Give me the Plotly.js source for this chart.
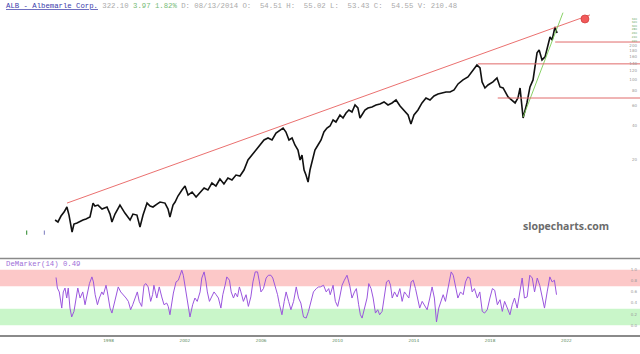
<!DOCTYPE html>
<html><head><meta charset="utf-8">
<script src="https://cdn.plot.ly/plotly-3.0.1.min.js"></script>
<style>html,body{margin:0;padding:0;background:#fff}#c{width:640px;height:354px}</style>
</head><body><div id="c"></div>
<script>
// ---- data ----
const pYears = [1995.20,1995.35,1995.51,1995.67,1995.82,1995.93,1996.09,1996.19,1996.35,1996.51,1996.66,1996.82,1997.03,1997.19,1997.29,1997.45,1997.66,1997.92,1998.08,1998.18,1998.34,1998.60,1998.76,1998.86,1999.13,1999.28,1999.49,1999.65,1999.81,2000.02,2000.18,2000.33,2000.54,2000.70,2000.96,2001.12,2001.22,2001.38,2001.49,2001.64,2001.85,2002.01,2002.17,2002.38,2002.59,2002.80,2003.01,2003.21,2003.42,2003.63,2003.84,2004.05,2004.26,2004.47,2004.68,2004.89,2005.10,2005.31,2005.52,2005.73,2005.94,2006.15,2006.36,2006.57,2006.78,2006.99,2007.15,2007.30,2007.46,2007.62,2007.77,2007.93,2008.04,2008.14,2008.25,2008.35,2008.46,2008.56,2008.67,2008.82,2008.98,2009.14,2009.29,2009.45,2009.61,2009.77,2009.92,2010.13,2010.29,2010.45,2010.60,2010.76,2010.92,2011.07,2011.18,2011.29,2011.44,2011.60,2011.81,2012.02,2012.23,2012.44,2012.65,2012.86,2013.07,2013.28,2013.49,2013.70,2013.85,2014.01,2014.22,2014.43,2014.64,2014.85,2015.06,2015.27,2015.48,2015.69,2015.90,2016.11,2016.32,2016.58,2016.84,2017.10,2017.31,2017.47,2017.58,2017.73,2017.89,2018.15,2018.36,2018.52,2018.68,2018.94,2019.15,2019.31,2019.46,2019.57,2019.67,2019.73,2019.93,2020.09,2020.25,2020.46,2020.57,2020.72,2020.88,2021.04,2021.14,2021.25,2021.40,2021.51];
const pVals = [5.99,5.76,6.49,7.03,7.78,6.62,4.71,5.53,5.64,5.87,5.99,6.11,6.36,8.42,7.93,8.09,7.47,7.78,6.75,5.76,6.75,8.09,7.32,6.89,5.99,6.75,6.62,5.21,6.62,8.42,7.93,7.78,8.25,8.60,8.42,7.47,6.36,8.09,8.60,9.70,10.94,11.86,9.90,10.51,9.51,10.31,11.40,10.94,12.60,11.86,13.65,12.35,13.93,13.38,14.79,14.49,16.36,20.0,22.11,24.45,27.04,29.90,31.12,29.90,34.4,36.55,38.0,35.1,29.9,31.1,27.04,24.45,20.0,22.11,16.36,14.79,12.85,16.36,20.0,24.45,27.04,29.9,35.1,38.0,39.6,44.69,42.9,49.42,46.5,51.4,54.64,52.5,60.42,56.9,46.5,49.42,54.64,56.9,58.1,60.42,61.6,64.2,60.42,62.9,66.81,59.2,54.64,49.42,41.2,49.42,54.64,62.9,69.6,66.81,72.4,75.4,76.9,78.5,78.5,81.7,92.2,99.9,106.1,122.1,135.0,127.1,96.0,85.0,90.3,96.0,104.0,86.8,85.0,71.0,66.8,62.9,69.6,85.0,58.1,46.5,62.9,86.8,99.9,172,182.5,149.3,158.6,210,237,223,290,257];

const stubYears = [1993.71, 1994.64];
const stubLo = [4.45, 4.45];
const stubHi = [4.85, 4.85];

const trendYears = [1995.825, 2023.235];
const trendVals = [8.42, 368.9];
const greenTrendYears = [2019.73, 2021.82];
const greenTrendVals = [47.4, 386];
const levelStarts = [2021.41, 2017.36, 2018.40];
const levelVals = [214, 138, 69.5];
const levelEnd = 2025.86;
const targetYear = [2022.97];
const targetVal = [340];

const dmYears = [1995.25,1995.32,1995.42,1995.55,1995.63,1995.72,1995.81,1995.89,1995.98,1996.07,1996.19,1996.30,1996.39,1996.51,1996.65,1996.77,1996.89,1997.00,1997.13,1997.21,1997.30,1997.42,1997.52,1997.65,1997.73,1997.87,1997.94,1998.08,1998.18,1998.29,1998.43,1998.51,1998.64,1998.78,1998.92,1999.04,1999.16,1999.27,1999.39,1999.51,1999.61,1999.74,1999.86,1999.96,2000.08,2000.21,2000.31,2000.38,2000.53,2000.66,2000.79,2000.91,2001.05,2001.13,2001.22,2001.31,2001.40,2001.54,2001.66,2001.75,2001.84,2001.92,2002.01,2002.13,2002.27,2002.41,2002.53,2002.65,2002.80,2002.89,2003.01,2003.11,2003.18,2003.29,2003.41,2003.53,2003.64,2003.76,2003.89,2003.99,2004.11,2004.20,2004.34,2004.43,2004.55,2004.65,2004.76,2004.86,2004.94,2005.07,2005.21,2005.33,2005.46,2005.57,2005.69,2005.81,2005.91,2005.99,2006.12,2006.26,2006.38,2006.51,2006.61,2006.73,2006.86,2006.96,2007.09,2007.21,2007.31,2007.44,2007.56,2007.70,2007.84,2007.96,2008.08,2008.22,2008.36,2008.48,2008.61,2008.74,2008.89,2009.01,2009.10,2009.27,2009.41,2009.54,2009.62,2009.77,2009.89,2010.01,2010.11,2010.24,2010.36,2010.50,2010.64,2010.76,2010.89,2010.99,2011.11,2011.20,2011.29,2011.41,2011.55,2011.64,2011.76,2011.87,2011.99,2012.11,2012.21,2012.34,2012.46,2012.57,2012.69,2012.78,2012.87,2012.99,2013.13,2013.27,2013.39,2013.51,2013.62,2013.74,2013.86,2013.97,2014.09,2014.21,2014.31,2014.44,2014.56,2014.70,2014.84,2014.96,2015.08,2015.19,2015.31,2015.44,2015.54,2015.66,2015.75,2015.89,2015.96,2016.07,2016.19,2016.31,2016.45,2016.59,2016.71,2016.83,2016.94,2017.06,2017.18,2017.33,2017.46,2017.59,2017.71,2017.85,2017.99,2018.12,2018.24,2018.38,2018.52,2018.64,2018.76,2018.90,2019.04,2019.16,2019.28,2019.42,2019.56,2019.68,2019.80,2019.94,2020.08,2020.21,2020.33,2020.47,2020.60,2020.73,2020.85,2020.99,2021.13,2021.25,2021.37,2021.48];
const dmVals = [0.86,0.67,0.60,0.31,0.60,0.67,0.49,0.67,0.31,0.15,0.25,0.49,0.67,0.49,0.60,0.37,0.60,0.75,0.87,0.78,0.55,0.37,0.49,0.60,0.55,0.72,0.60,0.31,0.22,0.37,0.55,0.69,0.60,0.55,0.49,0.43,0.28,0.37,0.49,0.60,0.43,0.34,0.72,0.75,0.69,0.43,0.55,0.72,0.49,0.69,0.51,0.37,0.40,0.34,0.19,0.43,0.58,0.78,0.81,0.90,0.99,0.90,0.69,0.43,0.15,0.37,0.49,0.43,0.60,0.85,0.96,0.78,0.60,0.43,0.51,0.60,0.55,0.49,0.31,0.55,0.72,0.87,0.81,0.60,0.49,0.58,0.51,0.69,0.60,0.43,0.55,0.34,0.51,0.78,0.96,0.96,0.78,0.60,0.66,0.85,0.90,0.90,0.85,0.72,0.55,0.37,0.19,0.43,0.60,0.43,0.28,0.43,0.69,0.49,0.40,0.15,0.13,0.25,0.43,0.60,0.66,0.69,
 0.69,0.72,0.60,0.66,0.55,0.72,0.43,0.34,0.49,0.72,0.81,0.90,0.72,0.49,0.60,0.66,0.37,0.19,0.13,0.28,0.49,0.75,0.66,0.49,0.22,0.28,0.19,0.25,0.49,0.78,0.81,0.72,0.49,0.60,0.51,0.66,0.43,0.60,0.55,0.49,0.78,0.81,0.66,0.43,0.31,0.43,0.37,0.28,0.49,0.69,0.49,0.06,0.31,0.43,0.55,0.43,0.60,0.81,0.96,0.90,0.66,0.49,0.60,0.55,0.78,0.87,0.85,0.60,0.66,0.49,0.60,0.25,0.22,0.28,0.49,0.66,0.63,0.37,0.46,0.25,0.43,0.31,0.19,0.37,0.49,0.31,0.60,0.85,0.49,0.51,0.90,0.85,0.60,0.85,0.72,0.49,0.31,0.60,0.87,0.78,0.81,0.55];
const obBand = [0.7, 1.0];
const osBand = [0.0, 0.3];

const xTickVals = [1998, 2002, 2006, 2010, 2014, 2018, 2022];
const xTickText = ['1998', '2002', '2006', '2010', '2014', '2018', '2022'];
const pTickVals = [20,40,60,80,100,120,140,160,180,200,220,240,260,280,300,320,340];
const dmTickVals = [0, 0.2, 0.4, 0.6, 0.8, 1.0];
const dmTickText = ['0.0','0.2','0.4','0.6','0.8','1.0'];

// ---- chart ----
const nb = s => s.replace(/ /g, '\u00a0');
const split = 0.2284;
const traces = [
  {x: pYears, y: pVals, type: 'scatter', mode: 'lines', line: {color: '#111', width: 1.6}, xaxis: 'x', yaxis: 'y'},
  {x: trendYears, y: trendVals, type: 'scatter', mode: 'lines', line: {color: '#e8605f', width: 0.9}, xaxis: 'x', yaxis: 'y'},
  {x: greenTrendYears, y: greenTrendVals, type: 'scatter', mode: 'lines', line: {color: '#7acc55', width: 0.9}, xaxis: 'x', yaxis: 'y'}
];
levelVals.forEach((v, i) => traces.push({x: [levelStarts[i], levelEnd], y: [v, v], type: 'scatter', mode: 'lines', line: {color: '#e06a6a', width: 1}, xaxis: 'x', yaxis: 'y'}));
traces.push({x: targetYear, y: targetVal, type: 'scatter', mode: 'markers', marker: {color: '#f25a5a', size: 8, line: {color: '#d04040', width: 0.8}}, xaxis: 'x', yaxis: 'y'});
const stubColors = ['#4a9a4a', '#9090c8'];
stubYears.forEach((yr, i) => traces.push({x: [yr, yr], y: [stubLo[i], stubHi[i]], type: 'scatter', mode: 'lines', line: {color: stubColors[i], width: 1.2}, xaxis: 'x', yaxis: 'y'}));
traces.push({x: dmYears, y: dmVals, type: 'scatter', mode: 'lines', line: {color: '#9a55dd', width: 1}, xaxis: 'x', yaxis: 'y2'});

const pTickText = pTickVals.map(v => v > 200 ? '<span style="color:#6aaa6a;font-size:2.8px">' + v + '</span>' : String(v));

const layout = {
  width: 640, height: 354,
  margin: {l: 0, r: 0, t: 0, b: 19},
  paper_bgcolor: '#fff', plot_bgcolor: 'rgba(0,0,0,0)',
  showlegend: false,
  font: {family: 'Liberation Mono, monospace', size: 5, color: '#999'},
  xaxis: {range: [1992.313, 2025.856], tickvals: xTickVals, ticktext: xTickText, showgrid: false, zeroline: false,
          anchor: 'y2', showline: true, linecolor: '#8a8a8a', linewidth: 1.5, ticks: '',
          tickfont: {family: 'DejaVu Sans, sans-serif', size: 4.2, color: '#5c8a5c'}},
  yaxis: {domain: [split, 1], type: 'log', range: [0.4419, 2.697], side: 'right', ticklabelposition: 'inside',
          showgrid: false, zeroline: false, ticks: '', tickvals: pTickVals, ticktext: pTickText,
          tickfont: {family: 'DejaVu Sans, sans-serif', size: 4, color: '#999'}},
  yaxis2: {domain: [0, split], range: [-0.174, 1.201], side: 'right', ticklabelposition: 'inside',
           showgrid: false, zeroline: false, ticks: '', tickvals: dmTickVals, ticktext: dmTickText,
           tickfont: {family: 'DejaVu Sans, sans-serif', size: 4, color: '#999'}},
  shapes: [
    {type: 'rect', xref: 'paper', x0: 0, x1: 1, yref: 'y2', y0: obBand[0], y1: obBand[1], fillcolor: '#fcc8c8', line: {width: 0}, layer: 'below'},
    {type: 'rect', xref: 'paper', x0: 0, x1: 1, yref: 'y2', y0: osBand[0], y1: osBand[1], fillcolor: '#c9f6c9', line: {width: 0}, layer: 'below'},
    {type: 'line', xref: 'paper', x0: 0, x1: 1, yref: 'paper', y0: split, y1: split, line: {color: '#8a8a8a', width: 1.5}}
  ],
  annotations: [
    {xref: 'paper', yref: 'paper', x: 0.006, y: 0.982, xanchor: 'left', yanchor: 'middle', showarrow: false,
     font: {family: 'Liberation Mono, monospace', size: 7.3, color: '#aaa'},
     text: '<span style="color:#3b3bab"><u>ALB - Albemarle Corp.</u></span>' + nb(' 322.10 ') + '<span style="color:#77bb77">' + nb('3.97 1.82%') + '</span>' + nb(' D: 08/13/2014 O:  54.51 H:  55.02 L:  53.43 C:  54.55 V: 210.48')},
    {xref: 'paper', yref: 'paper', x: 0.006, y: 0.212, xanchor: 'left', yanchor: 'middle', showarrow: false,
     font: {family: 'Liberation Mono, monospace', size: 7.3, color: '#a070d8'}, text: nb('DeMarker(14) 0.49')},
    {xref: 'paper', yref: 'paper', x: 0.885, y: 0.325, xanchor: 'center', yanchor: 'middle', showarrow: false,
     font: {family: 'Open Sans, sans-serif', size: 10.5, color: '#6b6b6b', weight: 'bold'}, text: 'slopecharts.com'}
  ]
};
Plotly.newPlot('c', traces, layout, {staticPlot: true, displayModeBar: false});
</script></body></html>
